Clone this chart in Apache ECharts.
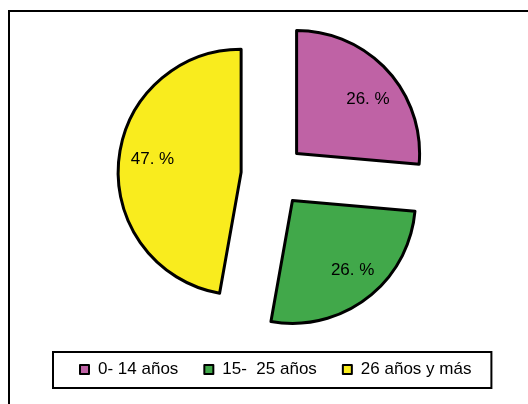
<!DOCTYPE html>
<html>
<head>
<meta charset="utf-8">
<script src="https://cdn.jsdelivr.net/npm/echarts@6/dist/echarts.min.js"></script>
<style>
  html, body { margin: 0; padding: 0; background: #fff; }
  #chart { width: 528px; height: 404px; }
</style>
</head>
<body>
<div id="chart"></div>
<script>
// datos
const categories = ['0- 14 años', '15-  25 años', '26 años y más'];
const values = [26.4, 26.4, 47.2];
const labels = ['26. %', '26. %', '47. %'];

// estilo
const colors = ['#BF62A5', '#41A84A', '#F9EC1E'];
const labelOffsets = [[2, 9], [3, -5], [5, -5]];

const chart = echarts.init(document.getElementById('chart'));

const pieCenter = [273, 175];
const pieRadius = 123;
const font = 'Liberation Sans, Arial, sans-serif';

const option = {
  animation: false,
  color: colors,
  graphic: [
    {
      type: 'rect',
      shape: { x: 9, y: 11, width: 600, height: 500 },
      style: { fill: 'none', stroke: '#000', lineWidth: 2 },
      z: -1
    }
  ],
  legend: {
    data: categories,
    left: 53,
    top: 352,
    orient: 'horizontal',
    padding: [9, 20, 10, 26],
    borderColor: '#000',
    borderWidth: 2,
    itemGap: 25,
    itemWidth: 9,
    itemHeight: 9,
    icon: 'rect',
    itemStyle: { borderColor: '#000', borderWidth: 2 },
    textStyle: {
      fontFamily: font,
      fontSize: 17,
      color: '#000',
      padding: [0, 0, 0, 4]
    }
  },
  series: [
    {
      name: 'edades',
      type: 'pie',
      center: pieCenter,
      radius: pieRadius,
      startAngle: 90,
      clockwise: true,
      selectedMode: 'multiple',
      selectedOffset: 32,
      label: { show: false },
      labelLine: { show: false },
      itemStyle: { borderColor: '#000', borderWidth: 3 },
      emphasis: { disabled: true },
      data: categories.map((name, i) => ({
        name: name,
        value: values[i],
        selected: true,
        itemStyle: { color: colors[i] }
      }))
    },
    {
      // capa transparente sólo para colocar las etiquetas más afuera
      name: 'etiquetas',
      type: 'pie',
      center: pieCenter,
      radius: [pieRadius * 0.48, pieRadius],
      startAngle: 90,
      clockwise: true,
      selectedMode: 'multiple',
      selectedOffset: 32,
      silent: true,
      z: 3,
      itemStyle: { color: 'rgba(0,0,0,0)', borderWidth: 0 },
      label: {
        show: true,
        position: 'inside',
        fontFamily: font,
        fontSize: 17,
        color: '#000',
        formatter: (p) => labels[p.dataIndex]
      },
      labelLayout: (p) => ({
        dx: labelOffsets[p.dataIndex][0],
        dy: labelOffsets[p.dataIndex][1]
      }),
      labelLine: { show: false },
      emphasis: { disabled: true },
      data: categories.map((name, i) => ({
        name: name + ' ',
        value: values[i],
        selected: true
      }))
    }
  ]
};

chart.setOption(option);
</script>
</body>
</html>
